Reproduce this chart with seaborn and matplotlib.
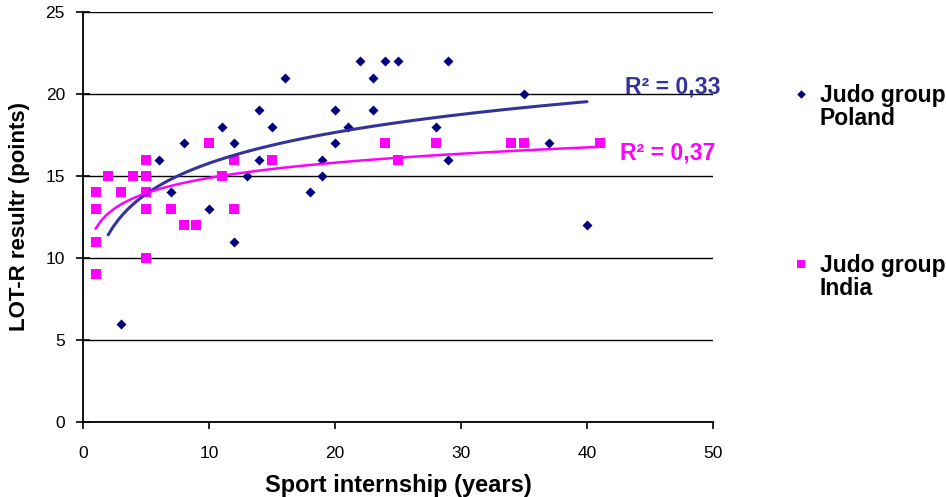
import numpy as np
import pandas as pd
import matplotlib.pyplot as plt
import seaborn as sns

# Judo group Poland (years of practice, LOT-R points)
poland_years = [2, 3, 5, 6, 7, 8, 10, 11, 12, 12, 13, 14, 14, 15, 16, 18, 19, 19,
                20, 20, 21, 22, 23, 23, 24, 25, 28, 29, 29, 35, 37, 40]
poland_points = [15, 6, 14, 16, 14, 17, 13, 18, 17, 11, 15, 19, 16, 18, 21, 14, 16, 15,
                 19, 17, 18, 22, 21, 19, 22, 22, 18, 22, 16, 20, 17, 12]

# Judo group India
india_years = [1, 1, 1, 1, 2, 3, 4, 5, 5, 5, 5, 5, 7, 8, 9, 10, 11, 12, 12, 15,
               24, 25, 28, 34, 35, 41]
india_points = [14, 13, 11, 9, 15, 14, 15, 16, 15, 14, 13, 10, 13, 12, 12, 17, 15, 16, 13, 16,
                17, 16, 17, 17, 17, 17]

group_labels = ["Judo group\nPoland", "Judo group\nIndia"]
r2_labels = ["R² = 0,33", "R² = 0,37"]

poland_dot = "#000080"
poland_line = "#333399"
india_col = "#FF00FF"

sns.set_style("white")
plt.rcParams["font.family"] = ["Liberation Sans", "DejaVu Sans"]

fig = plt.figure(figsize=(9.46, 4.97), dpi=100)
ax = fig.add_axes([0.0877, 0.151, 0.666, 0.825])

sns.scatterplot(x=poland_years, y=poland_points, marker="D", color=poland_dot,
                s=26, linewidth=0, label=group_labels[0], ax=ax, zorder=3)
sns.scatterplot(x=india_years, y=india_points, marker="s", color=india_col,
                s=46, linewidth=0, label=group_labels[1], ax=ax, zorder=3)

# logarithmic trend lines
sns.regplot(x=poland_years, y=poland_points, logx=True, scatter=False, ci=None,
            color=poland_line, line_kws={"lw": 2.2, "zorder": 4}, ax=ax)
sns.regplot(x=india_years, y=india_points, logx=True, scatter=False, ci=None,
            color=india_col, line_kws={"lw": 1.8, "zorder": 4}, ax=ax)

ax.text(43.0, 20.4, r2_labels[0], color=poland_line, fontsize=16.6, fontweight="bold", va="center")
ax.text(42.6, 16.4, r2_labels[1], color=india_col, fontsize=16.6, fontweight="bold", va="center")

ax.set_xlim(0, 50)
ax.set_ylim(0, 25)
ax.set_xticks(range(0, 51, 10))
ax.set_yticks(range(0, 26, 5))
ax.yaxis.grid(True, color="black", lw=1)
ax.set_axisbelow(True)
for s in ["top", "right"]:
    ax.spines[s].set_visible(False)
for s in ["left", "bottom"]:
    ax.spines[s].set_color("black")
    ax.spines[s].set_linewidth(1.3)
ax.tick_params(axis="x", bottom=True, direction="out", length=5, width=1.2,
               color="black", labelcolor="black", labelsize=12.5, pad=12)
ax.tick_params(axis="y", left=True, direction="inout", length=10, width=1.2,
               color="black", labelcolor="black", labelsize=12.5, pad=8)

ax.set_xlabel("Sport internship (years)", fontsize=17, fontweight="bold", color="black", labelpad=10)
ax.set_ylabel("LOT-R resultr (points)", fontsize=16, fontweight="bold", color="black", labelpad=11)

leg = ax.legend(loc="upper left", bbox_to_anchor=(1.092, 0.874), frameon=False,
                prop={"size": 16.5, "weight": "bold"}, labelspacing=5.4,
                handletextpad=0.42, handlelength=0.8, markerscale=0.85)
for col in leg._legend_handle_box.get_children():
    for row in col.get_children():
        row.align = "top"
for t in leg.get_texts():
    t.set_linespacing(1.0)
    t.set_color("black")

fig.savefig("out.png", dpi=100)
